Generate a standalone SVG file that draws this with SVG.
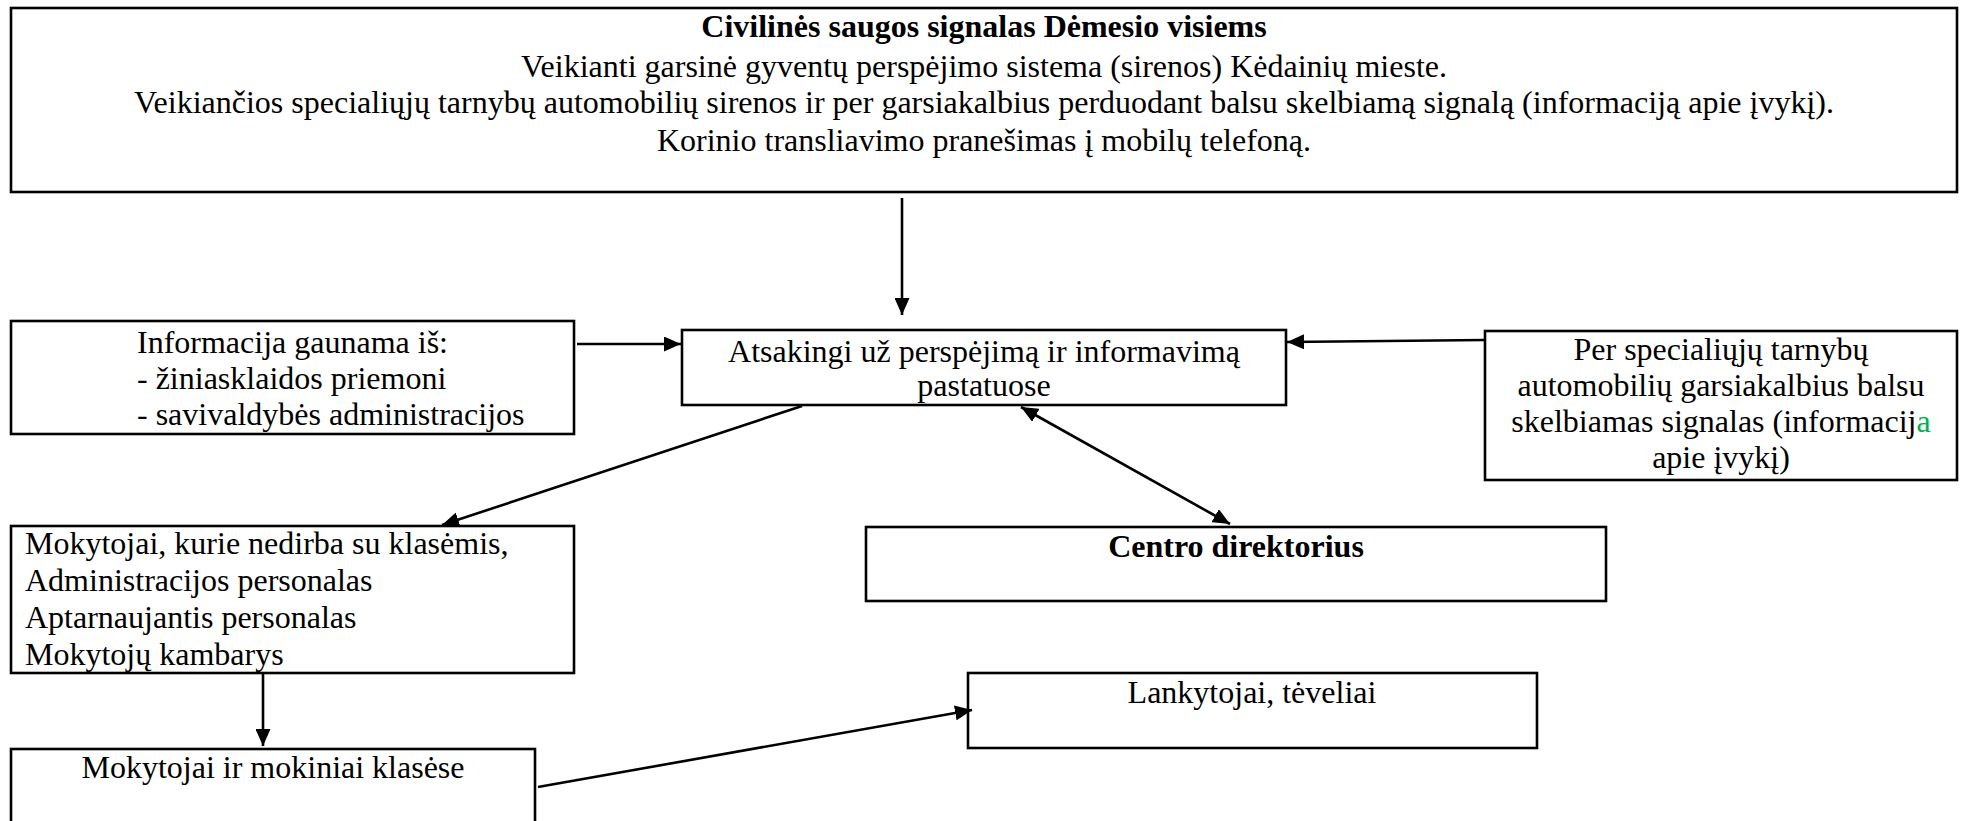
<svg xmlns="http://www.w3.org/2000/svg" width="1966" height="821" viewBox="0 0 1966 821">
<style>
.box{fill:#fff;stroke:#000;stroke-width:2.6}
text{font-family:"Liberation Serif","Times New Roman",serif;font-size:32px;fill:#000}
.c{text-anchor:middle}
.b{font-weight:bold}
.con{stroke:#000;stroke-width:2.6;fill:none}
</style>
<defs>
<marker id="ah" markerUnits="userSpaceOnUse" markerWidth="17" markerHeight="15" refX="17" refY="7.5" orient="auto-start-reverse">
<path d="M0,0 L17,7.5 L0,15 z" fill="#000"/>
</marker>
</defs>
<g id="top">
<rect class="box" x="11" y="8" width="1946" height="184"/>
<text class="c b" x="984" y="37">Civilinės saugos signalas Dėmesio visiems</text>
<text class="c" x="984" y="77">Veikianti garsinė gyventų perspėjimo sistema (sirenos) Kėdainių mieste.</text>
<text class="c" x="984" y="113">Veikiančios specialiųjų tarnybų automobilių sirenos ir per garsiakalbius perduodant balsu skelbiamą signalą (informaciją apie įvykį).</text>
<text class="c" x="984" y="151">Korinio transliavimo pranešimas į mobilų telefoną.</text>
</g>
<g id="info">
<rect class="box" x="11" y="321" width="563" height="113"/>
<text x="137" y="353">Informacija gaunama iš:</text>
<text x="137" y="389">- žiniasklaidos priemoni</text>
<text x="137" y="425">- savivaldybės administracijos</text>
</g>
<g id="atsakingi">
<rect class="box" x="682" y="330" width="604" height="75"/>
<text class="c" x="984" y="362">Atsakingi už perspėjimą ir informavimą</text>
<text class="c" x="984" y="396">pastatuose</text>
</g>
<g id="spec">
<rect class="box" x="1485" y="331" width="472" height="149"/>
<text class="c" x="1721" y="360">Per specialiųjų tarnybų</text>
<text class="c" x="1721" y="396">automobilių garsiakalbius balsu</text>
<text class="c" x="1721" y="432">skelbiamas signalas (informacij<tspan fill="#00b050">a</tspan></text>
<text class="c" x="1721" y="468">apie įvykį)</text>
</g>
<g id="mokytojai">
<rect class="box" x="11" y="526" width="563" height="147"/>
<text x="25" y="554">Mokytojai, kurie nedirba su klasėmis,</text>
<text x="25" y="591">Administracijos personalas</text>
<text x="25" y="628">Aptarnaujantis personalas</text>
<text x="25" y="665">Mokytojų kambarys</text>
</g>
<g id="direktorius">
<rect class="box" x="866" y="527" width="740" height="74"/>
<text class="c b" x="1236" y="557">Centro direktorius</text>
</g>
<g id="klases">
<rect class="box" x="11" y="749" width="524" height="90"/>
<text class="c" x="273" y="778">Mokytojai ir mokiniai klasėse</text>
</g>
<g id="lankytojai">
<rect class="box" x="968" y="673" width="569" height="75"/>
<text class="c" x="1252" y="703">Lankytojai, tėveliai</text>
</g>
<g id="connectors">
<line class="con" x1="902" y1="198" x2="902" y2="315" marker-end="url(#ah)"/>
<line class="con" x1="577" y1="344" x2="681" y2="344" marker-end="url(#ah)"/>
<line class="con" x1="1485" y1="340" x2="1287" y2="342" marker-end="url(#ah)"/>
<line class="con" x1="802" y1="406" x2="442" y2="525" marker-end="url(#ah)"/>
<line class="con" x1="1021" y1="407" x2="1230" y2="524" marker-start="url(#ah)" marker-end="url(#ah)"/>
<line class="con" x1="263" y1="673" x2="263" y2="746" marker-end="url(#ah)"/>
<line class="con" x1="538" y1="787" x2="972" y2="710" marker-end="url(#ah)"/>
</g>
</svg>
